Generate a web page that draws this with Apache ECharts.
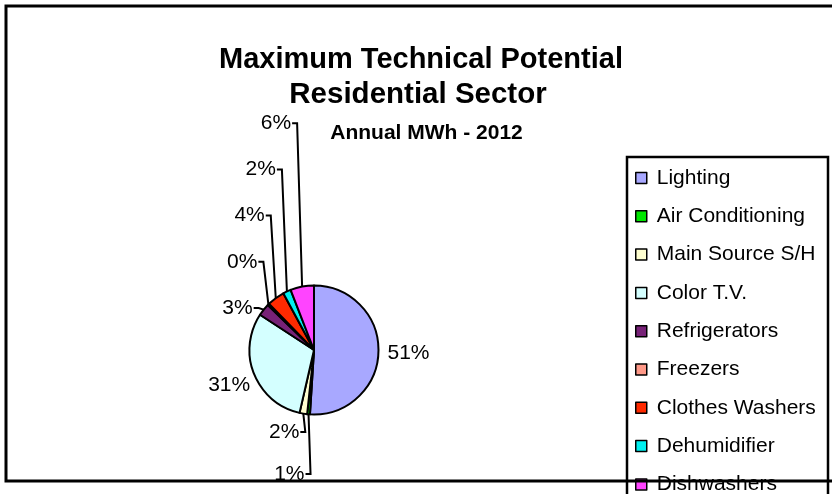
<!DOCTYPE html>
<html>
<head>
<meta charset="utf-8">
<script src="https://cdn.jsdelivr.net/npm/echarts@6/dist/echarts.min.js"></script>
<style>
  html, body { margin: 0; padding: 0; background: #ffffff; }
  #chart { width: 832px; height: 494px; }
</style>
</head>
<body>
<div id="chart"></div>
<script>
// End uses and their share of annual MWh savings potential
const categories = ['Lighting', 'Air Conditioning', 'Main Source S/H', 'Color T.V.',
  'Refrigerators', 'Freezers', 'Clothes Washers', 'Dehumidifier', 'Dishwashers'];
const shares = [51.0, 0.7, 1.9, 30.6, 3.1, 0.4, 4.4, 2.0, 5.9];
const sliceColors = ['#A8A8FF', '#00E600', '#FFFFD0', '#D4FFFF', '#772277',
  '#FF9988', '#FF2A00', '#00F0F0', '#FF44FF'];
const titleLines = ['Maximum Technical Potential', 'Residential Sector'];
const subtitleText = 'Annual MWh - 2012';

const FONT = '"Liberation Sans", Arial, Helvetica, sans-serif';
const CX = 314, CY = 350, R = 64.5;
const total = shares.reduce((a, b) => a + b, 0);

// Point on the rim at the middle of slice i (clockwise from 12 o'clock)
function rimPoint(i) {
  let before = 0;
  for (let k = 0; k < i; k++) before += shares[k];
  const a = (before + shares[i] / 2) / total * 2 * Math.PI;
  return [CX + R * Math.sin(a), CY - R * Math.cos(a)];
}

// Small slices at the top-left are labelled in a stacked column
const STACK_BASE_Y = 308, STACK_STEP = 46.2;

function placeLabel(params) {
  const i = params.dataIndex;
  const e = rimPoint(i);
  if (i === 0) {
    return { x: e[0] + 9, y: e[1] + 1, align: 'left', verticalAlign: 'middle' };
  }
  if (i === 3) {
    return { x: e[0] - 4, y: e[1] + 11, align: 'right', verticalAlign: 'middle' };
  }
  if (i === 1 || i === 2) {
    const ly = i === 1 ? 474 : 432;
    const ex = e[0] + 2;
    return {
      x: ex - 6, y: ly, align: 'right', verticalAlign: 'middle',
      labelLinePoints: [e, [ex, ly], [ex - 5, ly]]
    };
  }
  const ly = STACK_BASE_Y - (i - 4) * STACK_STEP;
  const ex = e[0] - 5;
  return {
    x: ex - 6, y: ly, align: 'right', verticalAlign: 'middle',
    labelLinePoints: [e, [ex, ly], [ex - 5, ly]]
  };
}

const pieData = categories.map((name, i) => ({
  name: name,
  value: shares[i],
  itemStyle: { color: sliceColors[i] },
  labelLine: { show: !(i === 0 || i === 3) }
}));

const chart = echarts.init(document.getElementById('chart'), null, { renderer: 'canvas' });

chart.setOption({
  animation: false,
  backgroundColor: '#ffffff',
  color: sliceColors,
  legend: {
    orient: 'vertical',
    left: 630,
    top: 162.5,
    height: 380,
    itemWidth: 11,
    itemHeight: 11,
    itemGap: 17.3,
    icon: 'rect',
    itemStyle: { borderColor: '#000000', borderWidth: 1.5 },
    textStyle: {
      fontFamily: FONT, fontSize: 21, color: '#000000',
      lineHeight: 20, padding: [0, 0, 0, 5]
    },
    data: categories
  },
  graphic: [
    {
      type: 'rect', z: 0,
      shape: { x: 627, y: 157, width: 201, height: 400 },
      style: { fill: '#ffffff', stroke: '#000000', lineWidth: 2.5 }
    },
    {
      type: 'rect', z: 100,
      shape: { x: 6, y: 6, width: 900, height: 475 },
      style: { fill: null, stroke: '#000000', lineWidth: 3 }
    },
    {
      type: 'text', x: 421, y: 60, z: 10,
      style: { text: titleLines[0], font: 'bold 29px ' + FONT, fill: '#000',
        align: 'center', verticalAlign: 'middle' }
    },
    {
      type: 'text', x: 418, y: 95, z: 10,
      style: { text: titleLines[1], font: 'bold 29.5px ' + FONT, fill: '#000',
        align: 'center', verticalAlign: 'middle' }
    },
    {
      type: 'text', x: 426.5, y: 133, z: 10,
      style: { text: subtitleText, font: 'bold 21px ' + FONT, fill: '#000',
        align: 'center', verticalAlign: 'middle' }
    }
  ],
  series: [{
    type: 'pie',
    center: [CX, CY],
    radius: R,
    startAngle: 90,
    clockwise: true,
    avoidLabelOverlap: false,
    itemStyle: { borderColor: '#000000', borderWidth: 2 },
    emphasis: { disabled: true },
    label: {
      show: true,
      position: 'outside',
      fontFamily: FONT,
      fontSize: 21,
      color: '#000000',
      formatter: p => Math.round(p.percent) + '%'
    },
    labelLine: {
      show: true, length: 6, length2: 6, smooth: false,
      lineStyle: { color: '#000000', width: 2 }
    },
    labelLayout: placeLabel,
    data: pieData
  }]
});
</script>
</body>
</html>
